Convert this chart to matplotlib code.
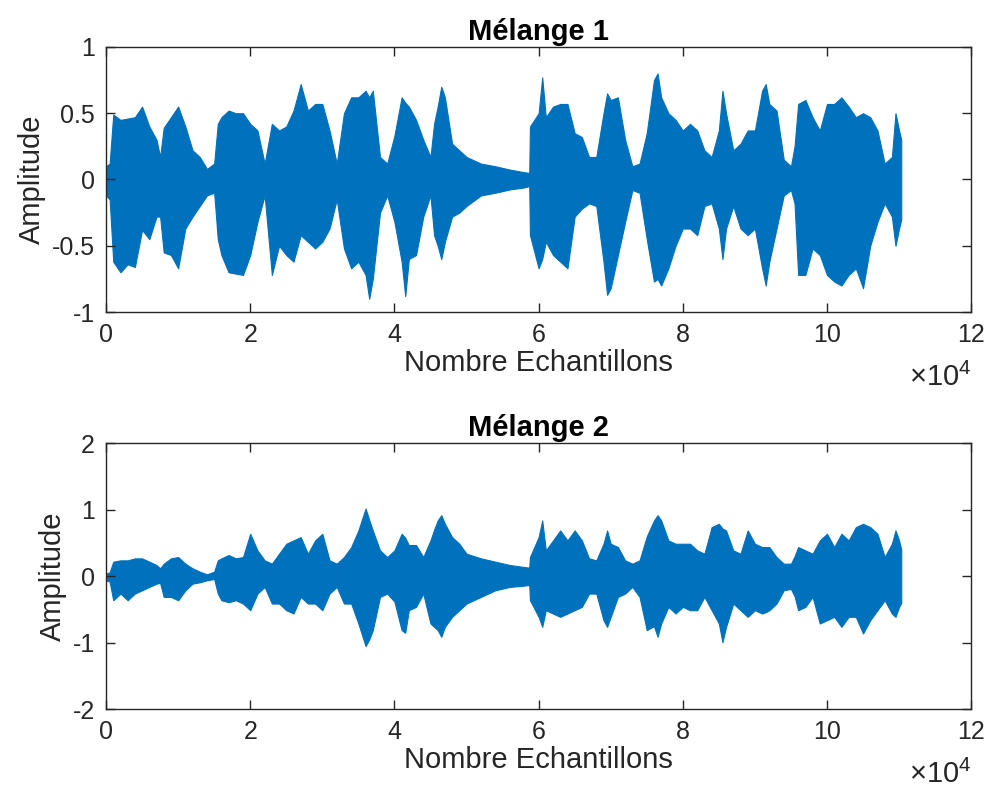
import matplotlib
matplotlib.use("Agg")
import matplotlib.pyplot as plt
import numpy as np
from matplotlib.ticker import FuncFormatter

plt.rcParams['font.family'] = ['Liberation Sans', 'DejaVu Sans']
plt.rcParams['mathtext.fontset'] = 'custom'
plt.rcParams['mathtext.rm'] = 'Liberation Sans'

# sample index, in units of 1e4 samples (envelope)
samples_1e4 = [0, 0.05, 0.1, 0.2, 0.3, 0.4, 0.5, 0.6, 0.7, 0.75,
               0.8, 0.9, 1.0, 1.1, 1.2, 1.3, 1.4, 1.5, 1.55, 1.6,
               1.7, 1.8, 1.9, 2.0, 2.1, 2.2, 2.3, 2.4, 2.5, 2.6,
               2.7, 2.8, 2.9, 3.0, 3.1, 3.2, 3.3, 3.4, 3.5, 3.6,
               3.65, 3.7, 3.8, 3.9, 4.0, 4.1, 4.15, 4.2, 4.3, 4.4,
               4.5, 4.55, 4.6, 4.65, 4.7, 4.8, 4.9, 5.0, 5.2, 5.4,
               5.6, 5.8, 5.87, 5.88, 6.0, 6.05, 6.1, 6.2, 6.3, 6.4,
               6.5, 6.6, 6.7, 6.8, 6.9, 6.95, 7.0, 7.1, 7.2, 7.3,
               7.4, 7.5, 7.6, 7.65, 7.7, 7.8, 7.9, 8.0, 8.1, 8.2,
               8.3, 8.4, 8.5, 8.55, 8.6, 8.7, 8.8, 8.9, 9.0, 9.1,
               9.15, 9.2, 9.3, 9.4, 9.5, 9.55, 9.6, 9.7, 9.8, 9.9,
               10.0, 10.1, 10.2, 10.3, 10.4, 10.5, 10.6, 10.7, 10.8, 10.9,
               10.95, 11.0, 11.03]

# Melange 1 : upper / lower envelope
mix1_hi = [0.10, 0.12, 0.49, 0.45, 0.46, 0.47, 0.55, 0.40, 0.30, 0.17,
           0.39, 0.47, 0.55, 0.40, 0.22, 0.17, 0.08, 0.12, 0.42, 0.47,
           0.52, 0.50, 0.50, 0.42, 0.37, 0.12, 0.42, 0.37, 0.40, 0.52,
           0.72, 0.52, 0.57, 0.57, 0.37, 0.12, 0.50, 0.62, 0.62, 0.67,
           0.62, 0.67, 0.17, 0.12, 0.33, 0.62, 0.58, 0.55, 0.45, 0.30,
           0.17, 0.42, 0.55, 0.70, 0.62, 0.27, 0.22, 0.17, 0.12, 0.10,
           0.075, 0.055, 0.05, 0.40, 0.50, 0.77, 0.47, 0.55, 0.57, 0.57,
           0.35, 0.32, 0.17, 0.17, 0.50, 0.65, 0.60, 0.62, 0.30, 0.10,
           0.12, 0.35, 0.75, 0.80, 0.62, 0.50, 0.45, 0.37, 0.42, 0.37,
           0.22, 0.17, 0.37, 0.67, 0.50, 0.22, 0.27, 0.37, 0.37, 0.67,
           0.72, 0.57, 0.52, 0.15, 0.10, 0.25, 0.57, 0.60, 0.47, 0.37,
           0.57, 0.57, 0.62, 0.55, 0.47, 0.50, 0.47, 0.37, 0.12, 0.17,
           0.50, 0.37, 0.30]
mix1_lo = [-0.12, -0.15, -0.62, -0.70, -0.64, -0.66, -0.38, -0.45, -0.28, -0.28,
           -0.55, -0.57, -0.67, -0.37, -0.28, -0.20, -0.12, -0.10, -0.45, -0.57,
           -0.70, -0.71, -0.72, -0.57, -0.32, -0.12, -0.72, -0.50, -0.57, -0.62,
           -0.42, -0.47, -0.52, -0.47, -0.37, -0.15, -0.52, -0.67, -0.62, -0.72,
           -0.90, -0.75, -0.25, -0.12, -0.32, -0.62, -0.88, -0.60, -0.57, -0.28,
           -0.12, -0.42, -0.50, -0.60, -0.47, -0.28, -0.25, -0.20, -0.12, -0.10,
           -0.075, -0.06, -0.05, -0.42, -0.67, -0.60, -0.47, -0.57, -0.62, -0.67,
           -0.28, -0.22, -0.18, -0.20, -0.62, -0.87, -0.82, -0.57, -0.32, -0.08,
           -0.10, -0.45, -0.77, -0.75, -0.80, -0.67, -0.50, -0.37, -0.37, -0.42,
           -0.20, -0.18, -0.37, -0.60, -0.37, -0.20, -0.37, -0.42, -0.37, -0.67,
           -0.80, -0.62, -0.37, -0.12, -0.08, -0.18, -0.72, -0.72, -0.52, -0.57,
           -0.72, -0.77, -0.80, -0.72, -0.67, -0.82, -0.50, -0.32, -0.18, -0.28,
           -0.50, -0.37, -0.30]

# Melange 2 : upper / lower envelope
mix2_hi = [0.04, 0.06, 0.22, 0.24, 0.24, 0.27, 0.27, 0.22, 0.17, 0.12,
           0.19, 0.27, 0.29, 0.19, 0.12, 0.07, 0.03, 0.07, 0.24, 0.27,
           0.32, 0.27, 0.29, 0.64, 0.39, 0.24, 0.19, 0.34, 0.49, 0.54,
           0.59, 0.34, 0.54, 0.64, 0.24, 0.19, 0.29, 0.44, 0.69, 1.02,
           0.85, 0.69, 0.39, 0.29, 0.39, 0.64, 0.58, 0.47, 0.47, 0.29,
           0.54, 0.70, 0.84, 0.92, 0.79, 0.59, 0.49, 0.34, 0.27, 0.22,
           0.17, 0.14, 0.13, 0.29, 0.59, 0.84, 0.39, 0.54, 0.69, 0.54,
           0.69, 0.54, 0.27, 0.24, 0.49, 0.69, 0.49, 0.44, 0.24, 0.19,
           0.24, 0.60, 0.84, 0.92, 0.84, 0.54, 0.49, 0.49, 0.49, 0.39,
           0.34, 0.74, 0.79, 0.72, 0.69, 0.39, 0.34, 0.69, 0.49, 0.44,
           0.44, 0.44, 0.29, 0.19, 0.19, 0.30, 0.44, 0.39, 0.34, 0.54,
           0.64, 0.44, 0.64, 0.54, 0.74, 0.79, 0.74, 0.64, 0.29, 0.49,
           0.69, 0.54, 0.40]
mix2_lo = [-0.06, -0.08, -0.36, -0.26, -0.36, -0.26, -0.21, -0.16, -0.11, -0.10,
           -0.31, -0.31, -0.36, -0.21, -0.11, -0.09, -0.06, -0.04, -0.26, -0.36,
           -0.39, -0.36, -0.41, -0.51, -0.26, -0.16, -0.41, -0.41, -0.51, -0.56,
           -0.31, -0.41, -0.41, -0.51, -0.26, -0.16, -0.41, -0.41, -0.71, -1.05,
           -0.95, -0.81, -0.31, -0.26, -0.38, -0.81, -0.85, -0.51, -0.46, -0.26,
           -0.71, -0.76, -0.81, -0.91, -0.76, -0.61, -0.51, -0.41, -0.31, -0.21,
           -0.16, -0.14, -0.13, -0.36, -0.61, -0.76, -0.51, -0.56, -0.61, -0.56,
           -0.51, -0.46, -0.26, -0.26, -0.66, -0.76, -0.61, -0.31, -0.26, -0.16,
           -0.31, -0.81, -0.75, -0.91, -0.71, -0.46, -0.56, -0.46, -0.51, -0.51,
           -0.31, -0.51, -0.71, -0.99, -0.76, -0.41, -0.51, -0.61, -0.51, -0.56,
           -0.54, -0.51, -0.41, -0.21, -0.19, -0.30, -0.51, -0.46, -0.31, -0.71,
           -0.66, -0.61, -0.76, -0.61, -0.61, -0.86, -0.66, -0.51, -0.36, -0.56,
           -0.61, -0.46, -0.40]

titles = ['Mélange 1', 'Mélange 2']
ylims = [(-1, 1), (-2, 2)]
yticks = [[-1, -0.5, 0, 0.5, 1], [-2, -1, 0, 1, 2]]
xticks = [0, 20000, 40000, 60000, 80000, 100000, 120000]

blue = '#0072BD'
dark = '#262626'

x = np.array(samples_1e4) * 1e4

fig = plt.figure(figsize=(9.91, 7.96), dpi=100)
ax1 = fig.add_axes([0.107, 0.608, 0.873, 0.333])
ax2 = fig.add_axes([0.107, 0.109, 0.873, 0.334])

for ax, hi, lo, t, yl, yt in zip([ax1, ax2], [mix1_hi, mix2_hi], [mix1_lo, mix2_lo],
                                 titles, ylims, yticks):
    ax.fill_between(x, lo, hi, color=blue, linewidth=0.8, edgecolor=blue)
    ax.set_xlim(0, 120000)
    ax.set_ylim(*yl)
    ax.set_xticks(xticks)
    ax.set_yticks(yt)
    ax.xaxis.set_major_formatter(FuncFormatter(lambda v, p: '%g' % (v / 1e4)))
    ax.yaxis.set_major_formatter(FuncFormatter(lambda v, p: '%g' % v))
    ax.tick_params(direction='in', length=6.5, width=1.0, colors=dark,
                   labelsize=18, top=True, right=True, pad=8)
    for s in ax.spines.values():
        s.set_color(dark)
        s.set_linewidth(1.0)
    ax.set_title(t, fontsize=21, fontweight='bold', color='black', pad=5)
    ax.set_xlabel('Nombre Echantillons', fontsize=21, color=dark, labelpad=1)
    ax.set_ylabel('Amplitude', fontsize=21, color=dark, labelpad=4)
    ax.text(0.928, -0.19, r'$\times10^{4}$', transform=ax.transAxes,
            fontsize=21, color=dark, ha='left', va='top')

fig.savefig('out.png', dpi=100)
